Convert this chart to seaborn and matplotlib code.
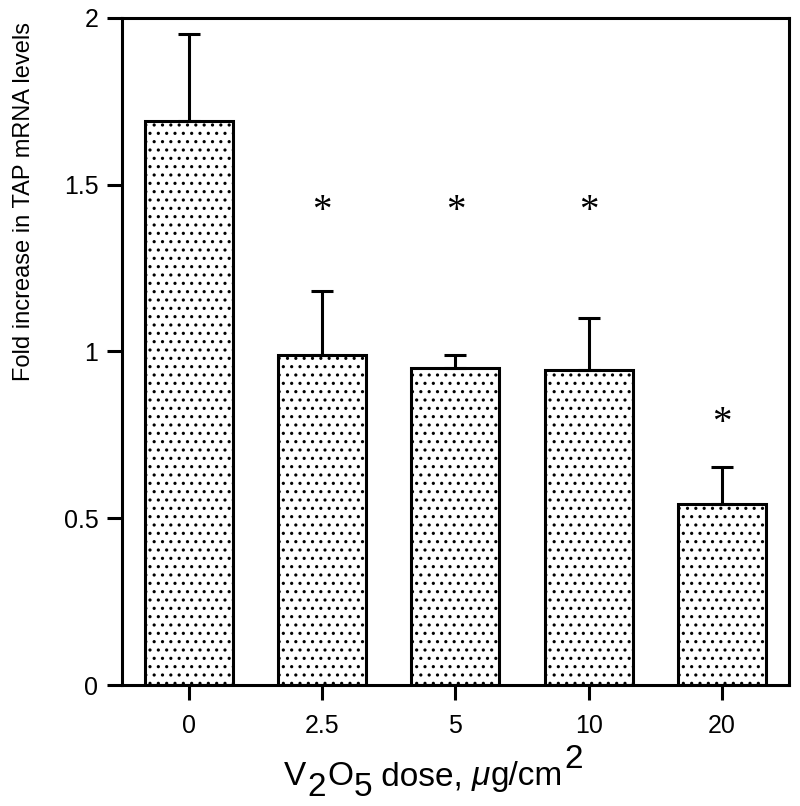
import matplotlib
matplotlib.use('Agg')
import matplotlib.pyplot as plt
import seaborn as sns
import pandas as pd

# 数据
doses = ['0', '2.5', '5', '10', '20']
means = [1.69, 0.99, 0.95, 0.945, 0.543]
errors = [0.26, 0.19, 0.04, 0.155, 0.11]
significant = [False, True, True, True, True]
star_y = [None, 1.39, 1.39, 1.39, 0.755]
yticks = [0, 0.5, 1, 1.5, 2]
yticklabels = ['0', '0.5', '1', '1.5', '2']

sns.set_style('ticks')
plt.rcParams['font.family'] = ['Liberation Sans', 'DejaVu Sans']
plt.rcParams['hatch.color'] = 'black'
plt.rcParams['hatch.linewidth'] = 1.1
for k in ['axes.edgecolor', 'text.color', 'xtick.color', 'ytick.color', 'axes.labelcolor']:
    plt.rcParams[k] = 'black'

df = pd.DataFrame({'dose': doses, 'mean': means})

fig = plt.figure(figsize=(8, 8.06), dpi=100)
ax = fig.add_axes([0.1525, 0.150, 0.8335, 0.828])

sns.barplot(data=df, x='dose', y='mean', color='white', edgecolor='black',
            linewidth=2.2, width=0.66, ax=ax, saturation=1)
for p in ax.patches:
    p.set_hatch('..')
    p.set_facecolor('white')

# 只画上方误差线
ax.errorbar(range(len(doses)), means, yerr=[[0] * len(errors), errors],
            fmt='none', ecolor='black', elinewidth=2.2, capsize=8, capthick=2.2, zorder=3)

# 显著性星号
for i, sig in enumerate(significant):
    if sig:
        ax.text(i, star_y[i], '*', ha='center', va='baseline', fontsize=28,
                family=['Liberation Serif', 'DejaVu Serif'])

ax.set_xlim(-0.5, 4.5)
ax.set_ylim(0, 2)
ax.set_yticks(yticks)
ax.set_yticklabels(yticklabels)
ax.set_xlabel('')
for s in ax.spines.values():
    s.set_visible(True)
    s.set_linewidth(2.2)
ax.tick_params(direction='out', length=11, width=2.2, labelsize=18)
ax.tick_params(axis='y', pad=6)
ax.tick_params(axis='x', pad=10)

ax.set_ylabel('Fold increase in TAP mRNA levels', fontsize=17)
ax.yaxis.set_label_coords(-0.131, 0.724)

# x轴标题: 下标/上标与正文同字号，逐段拼接
lab_font = dict(fontsize=24, family=['Liberation Sans', 'DejaVu Sans'])
pieces = [('2', -8, 'normal', 1), ('O', 0, 'normal', 1), ('5', -8, 'normal', 0),
          (' dose, ', 0, 'normal', 0), ('\u03bc', 0, 'italic', 0), ('g/cm', 0, 'normal', 0),
          ('2', 12, 'normal', 1)]
prev = fig.text(284 / 800, 21 / 806, 'V', va='baseline', ha='left', **lab_font)
prev_off = 0
for txt, off, style, gap in pieces:
    prev = ax.annotate(txt, xy=(1, 0), xycoords=prev, xytext=(gap, off - prev_off),
                       textcoords='offset points', va='bottom', ha='left',
                       fontstyle=style, annotation_clip=False, **lab_font)
    prev_off = off

plt.savefig('out.png', dpi=100)
plt.close()
